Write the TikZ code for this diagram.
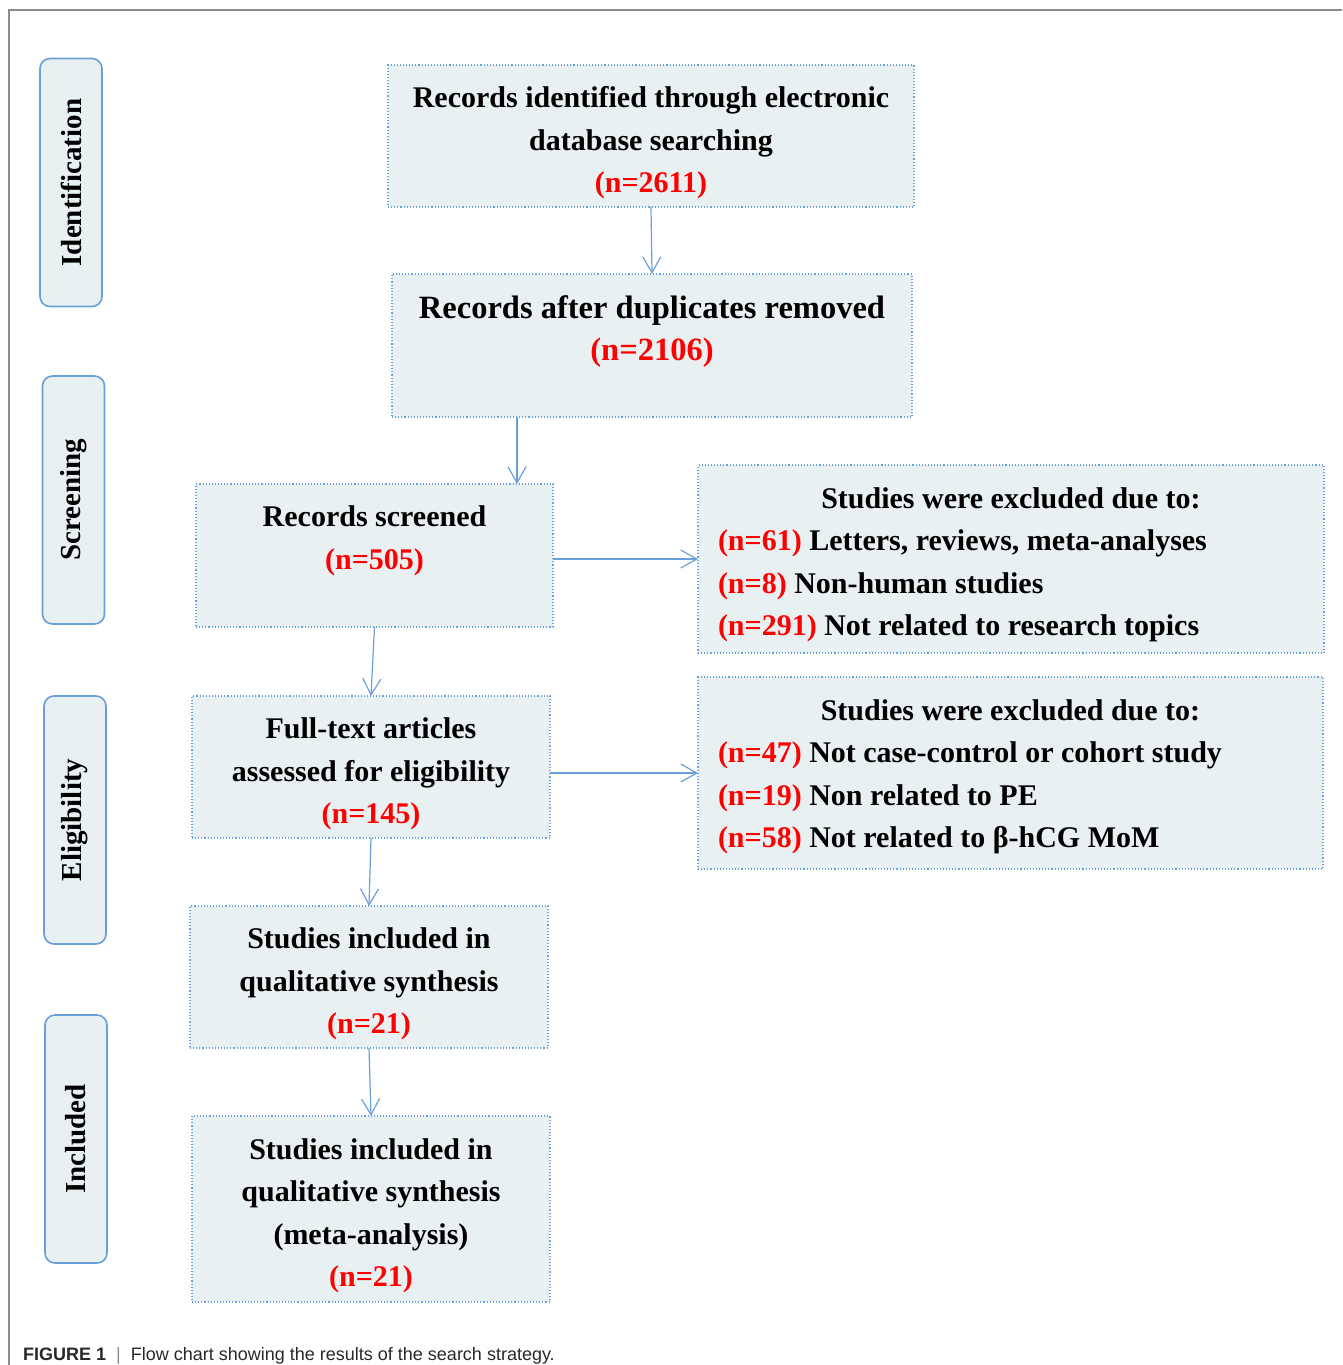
\documentclass[tikz,border=0pt]{standalone}
\usepackage{fontspec}
\setmainfont{Liberation Serif}
\setsansfont{Liberation Sans}
\usetikzlibrary{arrows.meta}
\definecolor{bfill}{RGB}{232,240,242}
\definecolor{bline}{RGB}{105,160,218}
\definecolor{nred}{RGB}{255,0,0}
\definecolor{framegray}{RGB}{140,140,140}
\definecolor{captgray}{RGB}{40,40,40}
\newcommand\redn[1]{\textcolor{nred}{#1}}
\begin{document}
\begin{tikzpicture}[x=1pt,y=-1pt,
  box/.style={draw=bline, dotted, line width=1.1pt, fill=bfill, inner sep=0pt, outer sep=0pt},
  txt/.style={inner sep=0pt, outer sep=0pt, align=center, font=\bfseries\fontsize{30}{42.5}\selectfont},
  side/.style={draw=bline, line width=1.6pt, fill=bfill, rounded corners=10pt, rotate=90,
    inner sep=0pt, outer sep=0pt, minimum width=248pt, minimum height=62pt,
    font=\bfseries\fontsize{29}{32}\selectfont},
  arr/.style={draw=bline, line width=1.2pt, -{Straight Barb[length=16pt,width=18pt,line width=1.2pt]}}
]
\useasboundingbox (0,0) rectangle (1342,1365);
% frame
\draw[framegray, line width=1.5pt] (9,1365) -- (9,10) -- (1342,10);

% side labels
\node[side] (sid) at (71,182.5) {Identification};
\node[side] (ssc) at (73.5,500) {Screening};
\node[side] (sel) at (75,820) {Eligibility};
\node[side] (sin) at (76,1139) {Included};

% main boxes
\node[box, minimum width=526pt, minimum height=142pt] (b1) at (651,136) {};
\node[txt] (b1t) at (651,143)
  {Records identified through electronic\\database searching\\\redn{(n=2611)}};
\node[box, minimum width=520pt, minimum height=143pt] (b2) at (652,345.5) {};
\node[txt, font=\bfseries\fontsize{32.5}{42.5}\selectfont] (b2t) at (652,331.5)
  {Records after duplicates removed\\\redn{(n=2106)}};
\node[box, minimum width=357pt, minimum height=143pt] (b3) at (374.5,555.5) {};
\node[txt] (b3t) at (374.5,541)
  {Records screened\\\redn{(n=505)}};
\node[box, minimum width=358pt, minimum height=142pt] (b4) at (371,767) {};
\node[txt] (b4t) at (371,774)
  {Full-text articles\\assessed for eligibility\\\redn{(n=145)}};
\node[box, minimum width=358pt, minimum height=142pt] (b5) at (369,977) {};
\node[txt] (b5t) at (369,984)
  {Studies included in\\qualitative synthesis\\\redn{(n=21)}};
\node[box, minimum width=358pt, minimum height=186pt] (b6) at (371,1209) {};
\node[txt] (b6t) at (371,1216)
  {Studies included in\\qualitative synthesis\\(meta-analysis)\\\redn{(n=21)}};

% exclusion boxes
\node[box, minimum width=626pt, minimum height=188pt] (e1) at (1011,559) {};
\node[txt] (e1h) at (1011,498) {Studies were excluded due to:};
\node[txt, align=left, anchor=west] (e1l) at (718,586)
  {\redn{(n=61)} Letters, reviews, meta-analyses\\\redn{(n=8)} Non-human studies\\\redn{(n=291)} Not related to research topics};
\node[box, minimum width=625pt, minimum height=192pt] (e2) at (1010.5,773) {};
\node[txt] (e2h) at (1010.5,710) {Studies were excluded due to:};
\node[txt, align=left, anchor=west] (e2l) at (718,798)
  {\redn{(n=47)} Not case-control or cohort study\\\redn{(n=19)} Non related to PE\\\redn{(n=58)} Not related to β-hCG MoM};

% connectors
\coordinate (c23) at (517,0);
\draw[arr] (b1.south) -- (b2.north);
\draw[arr] (b2.south -| c23) -- (b3.north -| c23);
\draw[arr] (b3.east |- e1.west) -- (e1.west);
\draw[arr] (b3.south) -- (b4.north);
\draw[arr] (b4.east |- e2.west) -- (e2.west);
\draw[arr] (b4.south) -- (b5.north);
\draw[arr] (b5.south) -- (b6.north);

% caption
\node[anchor=base west, inner sep=0pt, text=captgray, font=\sffamily\fontsize{18}{20}\selectfont] (cap) at (23,1360)
  {\textbf{FIGURE 1}\ \ {\color{framegray}|}\ \ Flow chart showing the results of the search strategy.};
\end{tikzpicture}
\end{document}
